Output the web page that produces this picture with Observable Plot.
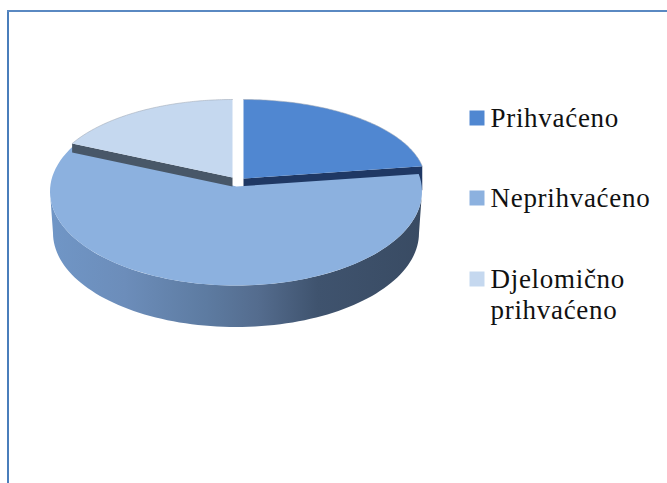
<!DOCTYPE html>
<html>
<head>
<meta charset="utf-8">
<script src="https://cdn.jsdelivr.net/npm/d3@7"></script>
<script src="https://cdn.jsdelivr.net/npm/@observablehq/plot@0.6"></script>
<style>html,body{margin:0;padding:0;background:#fff}svg{display:block}</style>
</head>
<body>
<div id="chart"></div>
<script>
const categories = ["Prihvaćeno", "Neprihvaćeno", "Djelomično prihvaćeno"];
const shares = [22, 61, 17];
const colors = ["#5087d1", "#8cb1df", "#c5d8ef"];
const legendLines = [["Prihvaćeno"], ["Neprihvaćeno"], ["Djelomično", "prihvaćeno"]];

const W = 667, H = 483;
// Projection of every exploded slice (perspective is approximated per slice)
const view = [
  {cx: 243, cy: 181, rx: 182, ry: 82, ax: 243, ay: 178, cut: 24, cutColor: "#1f3864"},
  {cx: 235.5, cy: 191, rx: 186, ry: 94, ax: 236, ay: 186},
  {cx: 232, cy: 184, rx: 183, ry: 85, ax: 232, ay: 177, cut: 9, cutColor: "#485768"}
];
const depth = 41.5;

const total = d3.sum(shares);
const cum = d3.cumsum(shares);
const range = i => [(i ? cum[i - 1] : 0) / total * 2 * Math.PI, cum[i] / total * 2 * Math.PI];
const pt = (v, t) => ({x: v.cx + v.rx * Math.sin(t), y: v.cy - v.ry * Math.cos(t)});
const arc = (v, a, b, n = 90) => d3.range(n + 1).map(k => pt(v, a + (b - a) * k / n));

const faces = [], rims = [], cuts = [];
categories.forEach((c, i) => {
  const v = view[i], [a, b] = range(i), rim = arc(v, a, b);
  faces.push(...[{x: v.ax, y: v.ay}, ...rim].map(p => ({...p, c})));
  rims.push(...rim.map(p => ({...p, c})));
  if (v.cut) {
    const end = i === 0 ? rim[rim.length - 1] : rim[0];
    cuts.push(...[{x: v.ax, y: v.ay}, end, {x: end.x, y: end.y + v.cut}, {x: v.ax, y: v.ay + v.cut}]
      .map(p => ({...p, c, color: v.cutColor})));
  }
});

// Outer wall of the large slice
const mv = view[1];
const wallTop = arc(mv, Math.PI / 2, 3 * Math.PI / 2);
const wallBottom = arc({...mv, rx: mv.rx - 3, cy: mv.cy + depth}, 3 * Math.PI / 2, Math.PI / 2);
const wall = [...wallTop, ...wallBottom];

const gradient = () => {
  const defs = d3.create("svg:defs");
  const g = defs.append("linearGradient").attr("id", "wallGrad")
    .attr("gradientUnits", "userSpaceOnUse")
    .attr("x1", 50).attr("x2", 421).attr("y1", 0).attr("y2", 0);
  [[0, "#7096c6"], [0.2, "#6c8dba"], [0.42, "#5d7ba1"], [0.56, "#546c8e"], [0.72, "#3f536e"], [1, "#394b63"]]
    .forEach(([o, col]) => g.append("stop").attr("offset", o).attr("stop-color", col));
  return defs.node();
};

const legendItems = [{y: 117.5}, {y: 197.5}, {y: 278.5}].map((d, i) => ({...d, c: categories[i]}));
const legendText = legendLines.flatMap((ls, i) => ls.map((t, k) => ({t, y: legendItems[i].y + k * 31.5})));

const only = c => d => d.c === c;
const chart = Plot.plot({
  width: W, height: H,
  margin: 0,
  x: {domain: [0, W], range: [0, W], axis: null},
  y: {domain: [0, H], range: [0, H], axis: null},
  color: {domain: categories, range: colors},
  style: {background: "#fff"},
  marks: [
    gradient,
    Plot.ruleX([7.5], {y1: 10, y2: H, stroke: "#4a7ebb", strokeWidth: 2}),
    Plot.ruleY([10.5], {x1: 7, x2: W, stroke: "#5a89c2", strokeWidth: 2}),
    // far right slice
    Plot.line(cuts.filter(only(categories[0])), {x: "x", y: "y", fill: "color", stroke: "none"}),
    Plot.line(faces.filter(only(categories[0])), {x: "x", y: "y", fill: "c", stroke: "none"}),
    // large slice
    Plot.line(wall, {x: "x", y: "y", fill: "url(#wallGrad)", stroke: "none"}),
    Plot.line(faces.filter(only(categories[1])), {x: "x", y: "y", fill: "c", stroke: "none"}),
    // far left slice
    Plot.line(cuts.filter(only(categories[2])), {x: "x", y: "y", fill: "color", stroke: "none"}),
    Plot.line(faces.filter(only(categories[2])), {x: "x", y: "y", fill: "c", stroke: "none"}),
    Plot.line(rims.filter(d => d.c !== categories[1]), {x: "x", y: "y", z: "c", stroke: "#9fa9b6", strokeWidth: 0.8, strokeOpacity: 0.7}),
    // legend
    Plot.dot(legendItems, {x: () => 476.5, y: "y", symbol: "square", r: 8.46, fill: "c", stroke: "none"}),
    Plot.text(legendText, {x: () => 490, y: "y", text: "t", textAnchor: "start", fontSize: 27, fontFamily: "Liberation Serif, serif", fill: "#111"})
  ]
});
chart.style.letterSpacing = "0.7px";
document.getElementById("chart").append(chart);
</script>
</body>
</html>
